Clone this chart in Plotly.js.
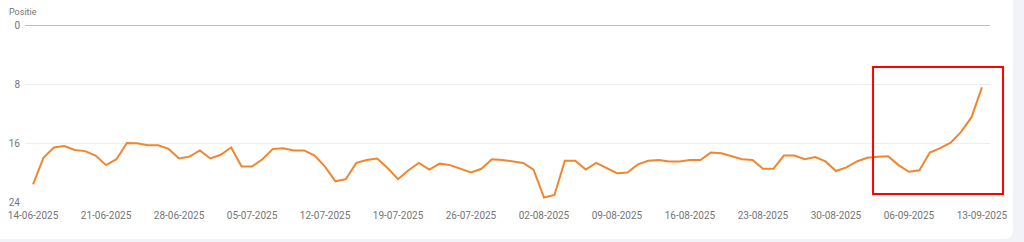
<!DOCTYPE html>
<html>
<head>
<meta charset="utf-8">
<script src="https://cdn.plot.ly/plotly-3.0.1.min.js"></script>
<style>
  html, body { margin: 0; padding: 0; background: #f1f3f8; }
  #card { position: absolute; left: 0; top: 0; width: 1013px; height: 239px; background: #ffffff; border-bottom-right-radius: 8px; overflow: hidden; }
  #chart { position: absolute; left: 0; top: 0; width: 1024px; height: 242px; }
</style>
</head>
<body>
<div id="card"></div>
<div id="chart"></div>
<script>
// First day of the series and daily positions (Google Search Console style)
const startDate = '2025-06-14';
const positions = [
  21.6, 18.0, 16.6, 16.4, 16.95, 17.1, 17.7, 19.0, 18.2, 16.0,
  16.05, 16.3, 16.3, 16.8, 18.1, 17.85, 17.0, 18.1, 17.6, 16.6,
  19.2, 19.2, 18.2, 16.8, 16.7, 17.0, 17.0, 17.7, 19.2, 21.2,
  20.9, 18.7, 18.3, 18.1, 19.4, 20.9, 19.7, 18.7, 19.6, 18.8,
  19.0, 19.5, 20.0, 19.5, 18.2, 18.3, 18.5, 18.7, 19.6, 23.4,
  23.05, 18.4, 18.4, 19.6, 18.7, 19.4, 20.1, 20.0, 18.9, 18.4,
  18.3, 18.5, 18.5, 18.3, 18.3, 17.3, 17.4, 17.8, 18.2, 18.3,
  19.5, 19.5, 17.7, 17.7, 18.2, 17.9, 18.5, 19.8, 19.3, 18.5,
  18.0, 17.85, 17.8, 19.0, 19.9, 19.7, 17.3, 16.7, 15.95, 14.5,
  12.5, 8.45
];
const yTicks = [0, 8, 16, 24];
const yTitle = 'Positie';
// Highlighted region (red box), as fractions of the plot area
const highlightX = [0.8788, 1.0135];
const highlightY = [0.0452, 0.7627];

function pad(n) { return (n < 10 ? '0' : '') + n; }
const dates = positions.map(function (_, i) {
  const d = new Date(startDate + 'T00:00:00Z');
  d.setUTCDate(d.getUTCDate() + i);
  return d.getUTCFullYear() + '-' + pad(d.getUTCMonth() + 1) + '-' + pad(d.getUTCDate());
});

const trace = {
  x: dates,
  y: positions,
  type: 'scatter',
  mode: 'lines',
  line: { color: '#f0862e', width: 2 },
  hoverinfo: 'x+y'
};

const layout = {
  width: 1024,
  height: 242,
  margin: { l: 25, r: 34, t: 25, b: 40 },
  paper_bgcolor: 'rgba(0,0,0,0)',
  plot_bgcolor: 'rgba(0,0,0,0)',
  showlegend: false,
  font: { family: 'Roboto, sans-serif', size: 10, color: '#757575' },
  xaxis: {
    type: 'date',
    range: ['2025-06-13 05:30', '2025-09-13 18:30'],
    tick0: startDate,
    dtick: 7 * 24 * 3600 * 1000,
    tickformat: '%d-%m-%Y',
    showgrid: false,
    zeroline: false,
    showline: false,
    ticks: '',
    ticklabelstandoff: 6,
    tickfont: { family: 'Roboto, sans-serif', size: 10, color: '#757575' },
    fixedrange: true
  },
  yaxis: {
    range: [24, 0],
    tickvals: yTicks,
    ticktext: yTicks.map(String),
    showgrid: true,
    gridcolor: '#eeeeee',
    gridwidth: 1,
    zeroline: true,
    zerolinecolor: '#bdbdbd',
    zerolinewidth: 1,
    showline: false,
    ticks: '',
    ticklabelstandoff: 4,
    tickfont: { family: 'Roboto, sans-serif', size: 10, color: '#757575' },
    fixedrange: true
  },
  annotations: [{
    text: yTitle,
    xref: 'paper', yref: 'paper',
    x: 0, y: 1,
    xshift: -18, yshift: 6,
    xanchor: 'left', yanchor: 'bottom',
    showarrow: false,
    font: { family: 'Roboto, sans-serif', size: 9, color: '#757575' }
  }],
  shapes: [{
    type: 'rect',
    xref: 'x domain', yref: 'y domain',
    x0: highlightX[0], x1: highlightX[1],
    y0: highlightY[0], y1: highlightY[1],
    line: { color: '#ff0000', width: 2 },
    fillcolor: 'rgba(0,0,0,0)',
    layer: 'above'
  }]
};

Plotly.newPlot('chart', [trace], layout, { displayModeBar: false, staticPlot: true });
</script>
</body>
</html>
